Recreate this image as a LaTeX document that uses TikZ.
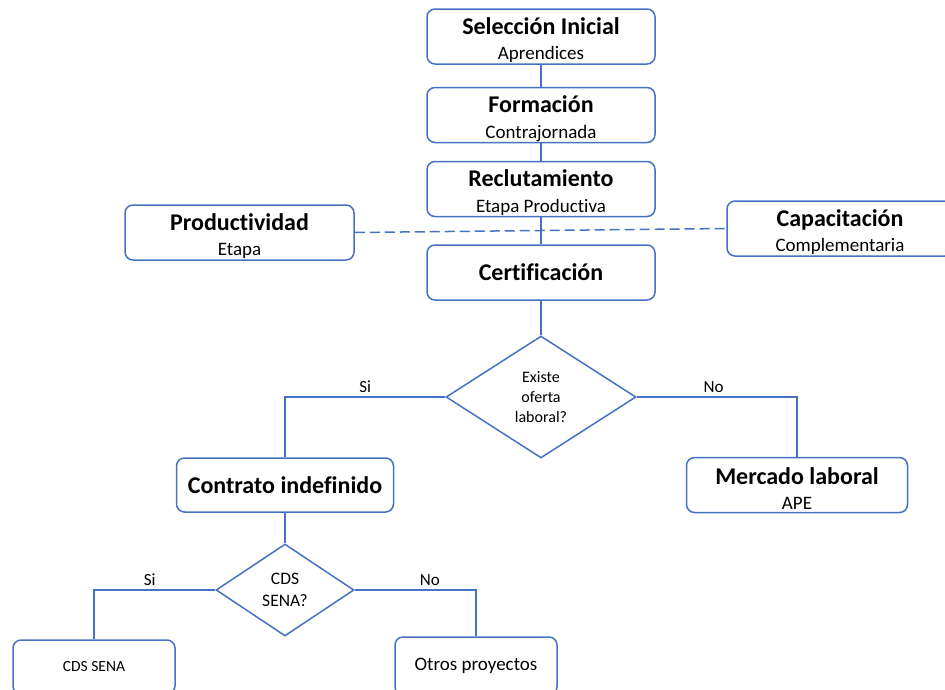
\documentclass[tikz,border=0pt]{standalone}
\usepackage{fontspec}
\setmainfont{Carlito}[Ligatures=CommonOff]
\usetikzlibrary{shapes.geometric}
\definecolor{azul}{HTML}{4472C4}
\newcommand{\titulo}[1]{{\fontsize{24}{25.5}\selectfont\bfseries #1}}
\newcommand{\cabecera}[1]{\rule{0pt}{24pt}\titulo{#1}}
\tikzset{
  etapa/.style={draw=azul, line width=1.5pt, rounded corners=8pt, inner sep=0pt,
    minimum width=228pt, minimum height=55pt, align=center,
    font=\fontsize{19}{25.5}\selectfont},
  pregunta/.style={draw=azul, line width=1.5pt, diamond, inner sep=0pt, align=center},
  linea/.style={azul, line width=1.5pt},
  rotulo/.style={text=black, font=\fontsize{17}{20}\selectfont, inner sep=4pt},
}
\begin{document}
\begin{tikzpicture}[x=1pt, y=-1pt]
\useasboundingbox (0,0) rectangle (945,689);
\clip (0,0) rectangle (945,689);

\node[etapa] (seleccion) at (541,36.5) {\cabecera{Selección Inicial}\\Aprendices};
\node[etapa] (formacion) at (541,115) {\cabecera{Formación}\\Contrajornada};
\node[etapa] (reclutamiento) at (541,189) {\cabecera{Reclutamiento}\\Etapa Productiva};
\node[etapa] (certificacion) at (541,272.5) {\titulo{Certificación}};
\node[etapa, minimum width=229pt] (productividad) at (239.5,232.5) {\cabecera{Productividad}\\Etapa};
\node[etapa, minimum width=226pt] (capacitacion) at (840,228.5) {\cabecera{Capacitación}\\Complementaria};

\node[pregunta, minimum width=190pt, minimum height=122pt, font=\fontsize{16}{20}\selectfont] (oferta) at (541,397) {Existe\\oferta\\laboral?};

\node[etapa, minimum width=217pt, minimum height=54pt] (contrato) at (285,485) {\titulo{Contrato indefinido}};
\node[etapa, minimum width=221pt, minimum height=55pt] (mercado) at (797,485) {\cabecera{Mercado laboral}\\APE};

\node[pregunta, minimum width=138pt, minimum height=92pt, font=\fontsize{17.5}{22}\selectfont] (cds) at (285,590) {CDS\\SENA?};

\node[etapa, minimum width=162pt, minimum height=54pt, font=\fontsize{15.5}{18}\selectfont] (cdssena) at (94,667) {CDS SENA};
\node[etapa, minimum width=162pt, minimum height=58pt] (otros) at (476,666) {Otros proyectos};

\draw[linea] (seleccion) -- (formacion);
\draw[linea] (formacion) -- (reclutamiento);
\draw[linea] (reclutamiento) -- (certificacion);
\draw[linea] (certificacion) -- (oferta);
\draw[linea, dash pattern=on 10pt off 5pt] (productividad.east) -- (capacitacion.west);

\draw[linea] (oferta.west) -| (contrato.north) node[rotulo, pos=0.25, above] {Si};
\draw[linea] (oferta.east) -| (mercado.north) node[rotulo, pos=0.24, above] {No};
\draw[linea] (contrato) -- (cds);
\draw[linea] (cds.west) -| (cdssena.north) node[rotulo, pos=0.27, above] {Si};
\draw[linea] (cds.east) -| (otros.north) node[rotulo, pos=0.31, above] {No};
\end{tikzpicture}
\end{document}
